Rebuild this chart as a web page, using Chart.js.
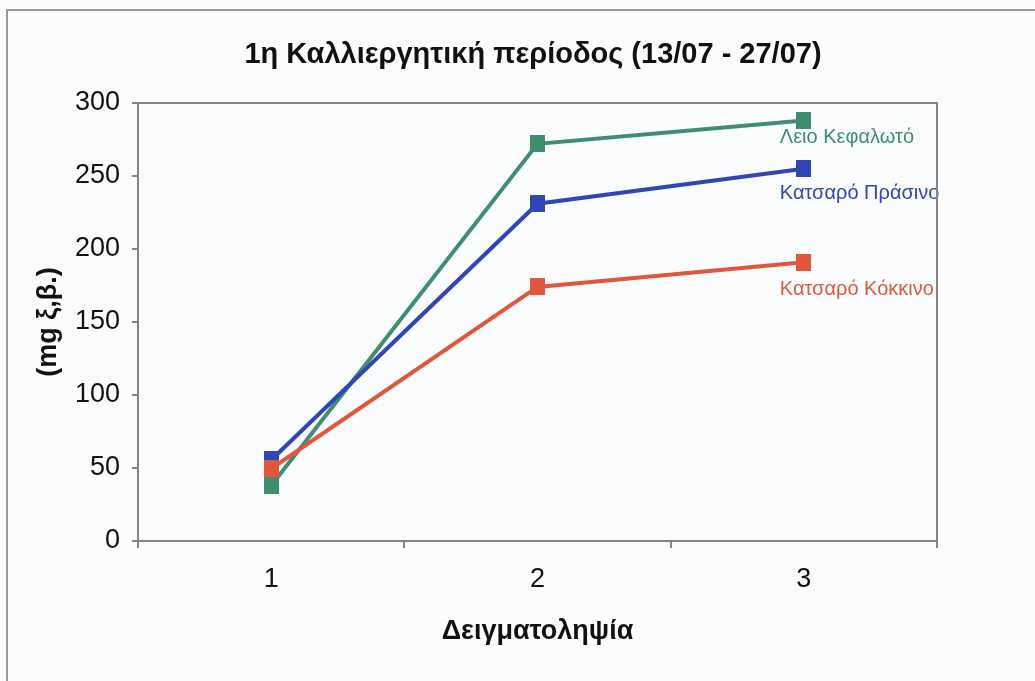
<!DOCTYPE html>
<html>
<head>
<meta charset="utf-8">
<script src="https://cdn.jsdelivr.net/npm/chart.js@4/dist/chart.umd.min.js"></script>
<style>
  html, body { margin: 0; padding: 0; background: #fbfcfd; }
  #wrap { width: 1035px; height: 681px; }
</style>
</head>
<body>
<div id="wrap"><canvas id="chart" width="1035" height="681"></canvas></div>
<script>
// Sampling rounds on the x axis
const categories = ['1', '2', '3'];

// Dry matter (mg) per lettuce variety
const leioKefaloto   = [38, 272, 288];
const katsaroPrasino = [55.5, 231, 255];
const katsaroKokkino = [49.5, 174, 191];

const seriesNames = ['Κατσαρό Κόκκινο', 'Κατσαρό Πράσινο', 'Λειο Κεφαλωτό'];

// y axis ticks
const yMin = 0;
const yMax = 300;
const yStep = 50;

const chartTitle = '1η Καλλιεργητική περίοδος (13/07 - 27/07)';
const xTitle = 'Δειγματοληψία';
const yTitle = '(mg ξ,β.)';

const GREEN = '#3e8e6f';
const BLUE = '#2f46b4';
const RED = '#e0573d';
const AXIS = '#858585';
const FONT = '"Liberation Sans", Arial, sans-serif';

// slightly tall square marker
function squareMarker(color) {
  const c = document.createElement('canvas');
  c.width = 15;
  c.height = 17;
  const g = c.getContext('2d');
  g.fillStyle = color;
  g.fillRect(0, 0, 15, 17);
  return c;
}

function series(label, data, color) {
  return {
    label,
    data,
    borderColor: color,
    backgroundColor: color,
    borderWidth: 4,
    pointStyle: squareMarker(color),
    pointRadius: 9,
    pointHoverRadius: 9,
    tension: 0,
    fill: false
  };
}

// frame, background, title and plot-area box
const decorations = {
  id: 'decorations',
  beforeDraw(chart) {
    const ctx = chart.ctx;
    ctx.save();
    ctx.fillStyle = '#fbfcfd';
    ctx.fillRect(0, 0, chart.width, chart.height);
    ctx.strokeStyle = '#9a9a9a';
    ctx.lineWidth = 2;
    ctx.beginPath();
    ctx.moveTo(7, chart.height);
    ctx.lineTo(7, 10);
    ctx.lineTo(chart.width, 10);
    ctx.stroke();
    ctx.restore();
  },
  afterDraw(chart) {
    const ctx = chart.ctx;
    const a = chart.chartArea;
    ctx.save();
    ctx.strokeStyle = AXIS;
    ctx.lineWidth = 2;
    ctx.beginPath();
    ctx.moveTo(a.left, a.top);
    ctx.lineTo(a.right, a.top);
    ctx.lineTo(a.right, a.bottom);
    ctx.stroke();

    ctx.fillStyle = '#111';
    ctx.font = 'bold 29px ' + FONT;
    ctx.textAlign = 'center';
    ctx.textBaseline = 'middle';
    ctx.fillText(chartTitle, 533, 55);
    ctx.restore();
  }
};

// series names written beside the last point of each line
const labelOffsets = [27, 25, 17];
const endLabels = {
  id: 'endLabels',
  afterDatasetsDraw(chart) {
    const ctx = chart.ctx;
    ctx.save();
    ctx.font = '20px ' + FONT;
    ctx.textAlign = 'left';
    ctx.textBaseline = 'middle';
    chart.data.datasets.forEach((ds, i) => {
      const meta = chart.getDatasetMeta(i);
      const last = meta.data[meta.data.length - 1];
      ctx.fillStyle = ds.borderColor;
      ctx.fillText(ds.label, last.x - 24, last.y + labelOffsets[i]);
    });
    ctx.restore();
  }
};

new Chart(document.getElementById('chart'), {
  type: 'line',
  data: {
    labels: categories,
    datasets: [
      series(seriesNames[0], katsaroKokkino, RED),
      series(seriesNames[1], katsaroPrasino, BLUE),
      series(seriesNames[2], leioKefaloto, GREEN)
    ]
  },
  options: {
    responsive: false,
    animation: false,
    events: [],
    layout: { padding: { left: 8, right: 98, top: 103, bottom: 0 } },
    plugins: {
      legend: { display: false },
      title: { display: false },
      tooltip: { enabled: false }
    },
    scales: {
      x: {
        type: 'category',
        offset: true,
        afterFit(scale) { scale.height = 140; },
        grid: {
          offset: true,
          drawOnChartArea: false,
          drawTicks: true,
          tickLength: 7,
          color: AXIS,
          lineWidth: 2
        },
        border: { color: AXIS, width: 2 },
        ticks: {
          color: '#111',
          padding: 15,
          font: { family: FONT, size: 27 }
        },
        title: {
          display: true,
          text: xTitle,
          color: '#111',
          padding: { top: 0, bottom: 33 },
          font: { family: FONT, size: 27, weight: 'bold' }
        }
      },
      y: {
        min: yMin,
        max: yMax,
        afterFit(scale) { scale.width = 130; },
        grid: {
          drawOnChartArea: false,
          drawTicks: true,
          tickLength: 6,
          color: AXIS,
          lineWidth: 2
        },
        border: { color: AXIS, width: 2 },
        ticks: {
          stepSize: yStep,
          color: '#111',
          padding: 12,
          font: { family: FONT, size: 27 }
        },
        title: {
          display: true,
          text: yTitle,
          color: '#111',
          padding: { top: 24, bottom: 0 },
          font: { family: FONT, size: 27, weight: 'bold' }
        }
      }
    }
  },
  plugins: [decorations, endLabels]
});
</script>
</body>
</html>
